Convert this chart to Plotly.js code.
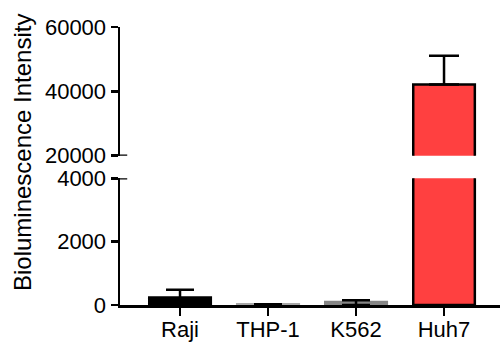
<!DOCTYPE html>
<html>
<head>
<meta charset="utf-8">
<script src="https://cdn.plot.ly/plotly-3.0.1.min.js"></script>
<style>html,body{margin:0;padding:0;background:#fff;}#chart{width:500px;height:342px;}</style>
</head>
<body>
<div id="chart"></div>
<script>
// ---- data ----
const categories = ["Raji", "THP-1", "K562", "Huh7"];
const values = [235, 25, 95, 42100];
const errorsUp = [250, null, 55, 9000];
const barColors = ["#000000", "#a8a8a8", "#858585", "#ff4040"];
const lineColors = ["#000000", "#a8a8a8", "#858585", "#000000"];
const lowerRange = [0, 4000];
const upperRange = [20000, 60000];
const lowerTicks = [0, 2000, 4000];
const upperTicks = [20000, 40000, 60000];
const yTitle = "Bioluminescence Intensity";

const FONT = "Arial, 'Liberation Sans', Helvetica, sans-serif";

// lower segment errors (Raji, THP-1, K562)
const lowErr = errorsUp.map((e, i) => (values[i] < lowerRange[1] ? e : null));
const lowErrMinus = values.map((v, i) => (lowErr[i] == null ? null : v));
// upper segment errors (Huh7)
const upErr = errorsUp.map((e, i) => (values[i] > upperRange[0] ? e : null));
const upErrMinus = upErr.map(e => (e == null ? null : 0));

const common = {
  type: "bar",
  x: categories,
  y: values,
  width: 0.7,
  marker: { color: barColors, line: { color: lineColors, width: 2.5 } },
  hoverinfo: "x+y",
  showlegend: false
};

const traces = [
  Object.assign({}, common, {
    xaxis: "x", yaxis: "y",
    error_y: { type: "data", symmetric: false, array: lowErr, arrayminus: lowErrMinus,
               color: "#000", thickness: 2.5, width: 14 }
  }),
  Object.assign({}, common, {
    xaxis: "x", yaxis: "y2",
    error_y: { type: "data", symmetric: false, array: upErr, arrayminus: upErrMinus,
               color: "#000", thickness: 2.5, width: 15 }
  })
];

const axisCommon = {
  showgrid: false, zeroline: false, showline: true, linecolor: "#000", linewidth: 2.5,
  ticks: "outside", ticklen: 7, tickwidth: 2.5, tickcolor: "#000",
  tickfont: { family: FONT, size: 22, color: "#000" }, fixedrange: true
};

const layout = {
  width: 500, height: 342,
  margin: { l: 120, r: 0, t: 27, b: 37 },
  paper_bgcolor: "#fff", plot_bgcolor: "rgba(0,0,0,0)",
  bargap: 0.3,
  xaxis: Object.assign({}, axisCommon, {
    type: "category", range: [-0.682, 3.636], anchor: "y", ticklen: 8,
    ticklabelstandoff: -5,
    tickfont: { family: FONT, size: 22, color: "#000" }
  }),
  yaxis: Object.assign({}, axisCommon, {
    domain: [0, 0.4558], range: lowerRange, tickvals: lowerTicks,
    ticktext: lowerTicks.map(String), anchor: "x"
  }),
  yaxis2: Object.assign({}, axisCommon, {
    domain: [0.537, 1], range: upperRange, tickvals: upperTicks,
    ticktext: upperTicks.map(String), anchor: "x"
  }),
  shapes: [
    { type: "line", xref: "paper", yref: "y", x0: -0.018, x1: 0.019, y0: lowerRange[1], y1: lowerRange[1],
      line: { color: "#000", width: 2.5 } },
    { type: "line", xref: "paper", yref: "y2", x0: -0.018, x1: 0.019, y0: upperRange[0], y1: upperRange[0],
      line: { color: "#000", width: 2.5 } }
  ],
  annotations: [
    { text: yTitle, xref: "paper", yref: "paper", x: -0.255, y: 0.547, xanchor: "center", yanchor: "middle",
      textangle: -90, showarrow: false, font: { family: FONT, size: 24, color: "#000" } }
  ]
};

Plotly.newPlot("chart", traces, layout, { displayModeBar: false, staticPlot: true });
</script>
</body>
</html>
